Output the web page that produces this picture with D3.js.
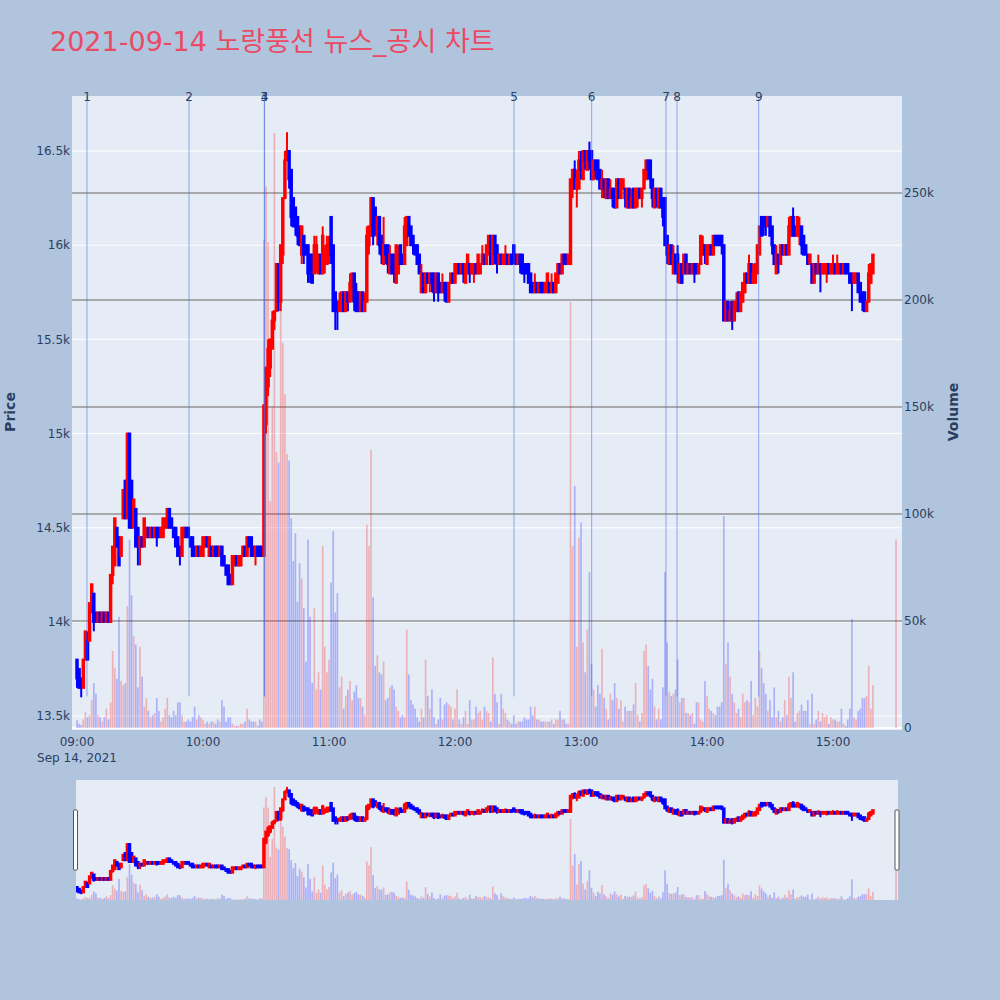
<!DOCTYPE html>
<html><head><meta charset="utf-8">
<script src="https://cdn.jsdelivr.net/npm/d3@7"></script>
<style>body{margin:0;background:#B0C4DE;} svg{display:block}</style>
</head><body>
<svg id="c" width="1000" height="1000"></svg>
<script>
// ---------------- DATA ----------------
const chartTitle = "2021-09-14 노랑풍선 뉴스_공시 차트";
const sessionDate = "2021-09-14";
const sessionStart = "09:00";
const sessionEnd = "15:19";
const closingAuction = "15:30";

const open = [13800,13750,13700,13650,13800,13900,13900,14050,14150,14050,
14000,14050,14000,14050,14000,14050,14000,14250,14300,14500,
14450,14350,14550,14750,14550,15000,14750,14500,14600,14500,
14400,14450,14400,14450,14500,14450,14500,14450,14500,14500,
14450,14450,14500,14500,14600,14550,14500,14500,14450,14400,
14350,14450,14500,14500,14450,14450,14400,14350,14400,14350,
14350,14400,14450,14350,14400,14350,14400,14400,14350,14400,
14350,14300,14300,14250,14200,14300,14350,14300,14300,14350,
14400,14350,14450,14450,14400,14350,14400,14400,14400,14350,
15050,15250,15350,15450,15600,15650,15900,15700,15950,16250,
16450,16500,16400,16250,16200,16150,16100,15950,16050,16000,
16000,15950,15950,15850,15900,15850,15950,15850,15900,15900,
15950,16150,16000,15750,15700,15650,15650,15750,15650,15750,
15700,15750,15850,15750,15750,15650,15750,15650,15700,16000,
16050,16250,16200,16050,16150,16050,15900,16000,16000,15850,
15950,15950,15800,15850,16000,15950,15900,16000,16150,16100,
16050,16000,16000,15950,15750,15850,15750,15850,15800,15850,
15850,15750,15850,15800,15750,15800,15800,15700,15800,15850,
15800,15850,15900,15850,15900,15800,15850,15900,15850,15850,
15900,15850,15850,15900,15950,15900,15950,16050,15900,16050,
16000,15900,15950,15900,15900,15950,15900,15950,16000,15950,
15900,15950,15950,15900,15900,15900,15850,15800,15750,15800,
15750,15800,15800,15750,15750,15800,15750,15800,15750,15800,
15900,15850,15950,15950,15900,15900,16300,16400,16300,16300,
16450,16350,16500,16400,16500,16500,16350,16450,16450,16400,
16300,16350,16250,16350,16250,16300,16300,16200,16350,16250,
16300,16300,16200,16300,16200,16300,16200,16250,16300,16250,
16300,16350,16450,16450,16350,16200,16300,16200,16300,16250,
16250,16050,15900,16000,15850,15950,15950,15800,15900,15850,
15950,15850,15900,15850,15900,15900,15850,15900,15950,16000,
15900,15950,16000,15950,16050,16050,16050,16050,16000,15600,
15700,15600,15700,15600,15650,15750,15650,15700,15750,15850,
15800,15900,15800,15800,15850,15950,16150,16150,16150,16100,
16150,16100,16000,15850,15950,15900,16000,15950,16000,15950,
16050,16150,16100,16050,16050,16100,16050,16000,15950,15900,
15900,15800,15900,15850,15900,15850,15850,15850,15900,15850,
15850,15900,15850,15850,15900,15850,15900,15900,15850,15850,
15800,15800,15850,15800,15750,15750,15650,15700,15800,15850,
15950];

const high = [13800,13750,13700,13800,13950,13950,14100,14200,14150,14050,
14050,14050,14050,14050,14050,14050,14250,14400,14550,14500,
14450,14450,14700,14750,15000,15000,14750,14650,14600,14500,
14450,14450,14550,14500,14500,14500,14500,14500,14500,14500,
14500,14550,14550,14600,14600,14550,14500,14500,14450,14400,
14500,14500,14500,14500,14450,14450,14400,14400,14400,14400,
14450,14450,14450,14450,14400,14400,14400,14400,14400,14400,
14350,14300,14300,14250,14350,14350,14350,14350,14350,14400,
14400,14450,14450,14450,14400,14400,14400,14400,14400,15150,
15350,15500,15500,15650,15650,15900,15900,16000,16250,16500,
16600,16500,16400,16250,16200,16150,16100,16100,16050,16000,
16000,15950,15950,16050,16050,15950,15950,16100,16000,16050,
16050,16150,16000,15750,15700,15750,15750,15750,15750,15750,
15850,15850,15850,15800,15750,15750,15750,15750,16100,16100,
16250,16250,16200,16150,16150,16050,16150,16000,16000,16000,
15950,15950,16000,16000,16000,15950,16150,16150,16150,16100,
16050,16000,16000,15950,15900,15850,15850,15850,15850,15850,
15850,15850,15850,15800,15850,15800,15800,15800,15850,15850,
15900,15900,15900,15900,15900,15900,15950,15900,15900,15900,
15900,15950,15900,16000,15950,16000,16050,16050,16050,16050,
16000,15950,15950,15950,16000,15950,15950,15950,16000,15950,
15950,15950,15950,15900,15900,15900,15850,15800,15850,15800,
15800,15800,15800,15800,15850,15800,15850,15800,15850,15900,
15900,15950,15950,15950,15950,16350,16400,16450,16400,16500,
16500,16500,16500,16500,16550,16500,16450,16450,16450,16400,
16400,16350,16350,16350,16350,16300,16300,16350,16350,16350,
16350,16300,16300,16300,16300,16300,16300,16300,16300,16300,
16400,16450,16450,16450,16350,16300,16300,16300,16300,16250,
16250,16050,16000,16000,16000,15950,16000,15900,15900,15950,
15950,15900,15900,15900,15900,15900,15900,16050,16050,16000,
16000,16000,16000,16050,16050,16050,16050,16050,16000,15700,
15700,15700,15700,15700,15750,15750,15750,15800,15850,15850,
15950,15900,15900,15900,16000,16100,16150,16150,16150,16150,
16150,16100,16000,16000,15950,16000,16000,16000,16000,16150,
16150,16200,16100,16150,16150,16100,16050,16000,15950,15950,
15900,15900,15900,15950,15900,15900,15900,15900,15900,15900,
15950,15900,15950,15900,15900,15900,15900,15900,15850,15850,
15850,15850,15850,15800,15750,15750,15700,15900,15900,15950,
15950];

const low = [13650,13650,13600,13650,13800,13800,13900,14050,13950,14000,
14000,14000,14000,14000,14000,14000,14000,14200,14300,14400,
14300,14350,14550,14550,14550,14500,14500,14500,14400,14300,
14300,14400,14400,14450,14450,14450,14450,14450,14400,14450,
14450,14450,14500,14500,14500,14500,14450,14400,14350,14300,
14350,14450,14450,14450,14400,14350,14350,14350,14350,14350,
14350,14400,14400,14350,14350,14350,14350,14350,14350,14300,
14300,14250,14200,14200,14200,14300,14300,14300,14300,14350,
14350,14350,14400,14350,14350,14300,14350,14350,14350,14350,
15000,15200,15300,15450,15550,15650,15650,15650,15900,16250,
16450,16300,16100,16100,16050,16000,16000,15900,15900,15950,
15800,15800,15800,15850,15850,15850,15850,15850,15850,15900,
15900,15900,15650,15550,15550,15650,15650,15650,15650,15650,
15700,15700,15650,15650,15650,15650,15650,15650,15700,15950,
16050,16000,16050,16000,15950,15900,15900,15900,15850,15850,
15850,15800,15800,15850,15900,15900,15900,16000,16050,16000,
15950,15950,15900,15850,15750,15750,15750,15800,15750,15750,
15700,15750,15700,15750,15750,15700,15700,15700,15800,15800,
15800,15850,15850,15850,15800,15800,15850,15800,15850,15800,
15850,15850,15850,15900,15900,15900,15950,15900,15900,15900,
15850,15900,15900,15900,15900,15900,15900,15900,15900,15900,
15900,15850,15850,15800,15850,15800,15750,15750,15750,15750,
15750,15750,15750,15750,15750,15750,15750,15750,15750,15800,
15850,15850,15900,15900,15900,15900,16250,16300,16200,16300,
16350,16350,16400,16400,16400,16350,16350,16350,16350,16300,
16250,16250,16250,16250,16250,16200,16200,16200,16250,16250,
16300,16200,16200,16200,16200,16200,16200,16200,16250,16200,
16300,16350,16350,16300,16200,16200,16200,16200,16200,16100,
16000,15900,15900,15900,15850,15850,15800,15800,15800,15850,
15850,15850,15850,15850,15800,15850,15850,15900,15950,15900,
15900,15950,15950,15950,16000,16000,16000,15950,15600,15600,
15600,15600,15550,15600,15650,15650,15650,15700,15750,15800,
15800,15800,15800,15800,15850,15950,16050,16050,16050,16100,
16050,15950,15900,15850,15850,15900,15950,15950,15950,15950,
16050,16050,16050,16050,16000,15950,15950,15950,15900,15900,
15800,15800,15850,15850,15750,15850,15850,15800,15850,15850,
15850,15850,15850,15850,15850,15850,15850,15850,15800,15650,
15800,15800,15750,15700,15650,15650,15650,15700,15800,15850,
15950];

const close = [13700,13650,13650,13800,13950,13800,14100,14200,14000,14000,
14050,14000,14050,14000,14050,14000,14250,14400,14550,14400,
14300,14450,14700,14550,15000,14500,14500,14650,14400,14400,
14450,14400,14550,14500,14450,14500,14450,14500,14450,14450,
14500,14550,14550,14600,14500,14500,14450,14400,14350,14350,
14500,14500,14450,14450,14400,14350,14350,14400,14350,14400,
14450,14450,14400,14450,14350,14400,14350,14350,14400,14300,
14300,14250,14200,14200,14350,14350,14300,14350,14350,14400,
14350,14450,14400,14350,14350,14400,14350,14350,14350,15150,
15350,15450,15500,15600,15650,15900,15700,16000,16250,16450,
16500,16350,16150,16100,16100,16050,16000,16100,15950,15950,
15850,15850,15800,16000,16000,15950,15850,16050,15950,16000,
16000,15950,15650,15650,15650,15700,15750,15650,15750,15700,
15800,15850,15700,15650,15650,15750,15650,15700,16050,16100,
16250,16050,16100,16150,16000,15950,16000,15950,15900,15950,
15850,15850,16000,15950,15900,15900,16100,16150,16050,16000,
16000,15950,15900,15850,15850,15750,15850,15800,15850,15800,
15750,15850,15750,15750,15800,15750,15700,15800,15850,15800,
15900,15900,15850,15900,15850,15900,15950,15850,15900,15900,
15850,15950,15900,15950,15900,16000,16050,15900,16050,15950,
15900,15950,15900,15950,15950,15900,15950,15900,15950,15900,
15950,15900,15850,15850,15850,15800,15750,15750,15800,15750,
15800,15750,15750,15800,15850,15750,15800,15750,15850,15900,
15850,15950,15900,15900,15950,16350,16400,16300,16350,16450,
16400,16500,16450,16500,16450,16350,16450,16400,16350,16300,
16350,16300,16350,16250,16300,16250,16200,16350,16250,16350,
16350,16250,16300,16200,16250,16200,16300,16300,16250,16300,
16400,16450,16400,16350,16250,16300,16250,16300,16200,16150,
16000,15950,16000,15900,15950,15850,15850,15900,15800,15950,
15850,15900,15850,15900,15850,15850,15900,16050,16000,15950,
16000,16000,15950,16050,16000,16000,16000,16000,15600,15700,
15600,15650,15600,15700,15700,15650,15750,15800,15850,15800,
15900,15800,15850,15900,16000,16100,16050,16100,16100,16150,
16050,16000,15900,15950,15900,16000,15950,16000,15950,16100,
16150,16050,16050,16150,16100,16000,15950,15950,15900,15950,
15800,15900,15850,15900,15850,15900,15900,15900,15850,15900,
15900,15850,15900,15900,15850,15900,15850,15850,15800,15800,
15850,15850,15750,15700,15700,15650,15700,15850,15900,15950,
15950];

// volume in thousands of shares
const volumeThousands = [3.7,2,1.5,4,7.5,5,6,13,21,16,
6,5,3,5,9,4,12,36,28,23,
52,22,20,21,57,88,62,43,39,19,
38,24,10,14,8,5,6,7,14,8,
3,5,9,14,6,5,8,6,12,12,
6,3,3,4,3,5,10,4,6,5,
4,2,3,2,3,3,2,4,3,13,
10,3,5,5,2,1,1,1,2,2,
3,9,4,3,3,3,1,4,3,228,
253,227,106,150,278,129,124,205,180,156,
128,125,98,78,91,59,77,70,56,31,
88,52,21,56,18,26,18,85,38,26,
32,68,92,54,63,19,24,9,15,18,
22,13,17,20,14,14,10,6,95,85,
130,61,29,34,26,25,31,13,14,19,
20,18,10,8,5,6,5,46,25,13,
11,9,5,3,9,5,32,15,9,18,
5,2,4,14,4,11,12,11,10,4,
9,18,4,2,5,8,2,13,4,4,
10,7,8,4,10,8,7,3,33,16,
12,2,16,9,7,4,3,2,6,2,
3,3,3,5,4,4,10,6,10,4,
4,3,3,3,3,3,4,2,4,4,
8,4,4,2,2,199,85,113,38,89,
96,40,26,46,73,30,18,10,20,16,
37,14,9,4,16,13,21,14,9,13,
3,10,8,8,8,11,21,6,3,7,
36,39,29,18,23,10,4,9,4,19,
73,40,17,15,16,18,32,12,14,14,
7,7,6,7,2,12,12,4,3,22,
15,9,8,7,6,10,10,12,99,30,
40,24,16,12,7,9,5,16,12,13,
12,22,6,14,10,36,28,21,16,8,
13,5,19,5,8,3,5,13,6,24,
14,26,3,7,8,11,8,8,13,2,
16,2,4,8,3,7,5,6,2,5,
4,4,3,3,9,2,1,4,9,51,
5,4,8,9,14,14,15,29,9,20,
88];

// news / disclosure markers
const markerLabels = ["1","2","3","4","5","6","7","8","9"];
const markerTimes = ["09:04:45","09:53:20","10:29:10","10:29:20","12:28:05","13:05:05","13:40:28","13:45:43","14:24:37"];

// axis ticks
const xTickLabels = ["09:00","10:00","11:00","12:00","13:00","14:00","15:00"];
const xDateLabel = "Sep 14, 2021";
const priceTicks = [13500,14000,14500,15000,15500,16000,16500];
const priceTickLabels = ["13.5k","14k","14.5k","15k","15.5k","16k","16.5k"];
const volumeTicks = [0,50,100,150,200,250];
const volumeTickLabels = ["0","50k","100k","150k","200k","250k"];

// ---------------- BUILD ----------------
const parseT = d3.timeParse("%Y-%m-%d %H:%M:%S");
const T = s => parseT(sessionDate + " " + (s.length === 5 ? s + ":00" : s));
const times = d3.timeMinute.range(T(sessionStart), d3.timeMinute.offset(T(sessionEnd), 1));
times.push(T(closingAuction));

const data = times.map((t, i) => ({
  t, o: open[i], h: high[i], l: low[i], c: close[i], v: volumeThousands[i],
}));
data.forEach((d, i) => {
  const prev = i > 0 ? data[i - 1].c : d.o;
  d.inc = d.c > d.o || (d.c === d.o && d.c >= prev);
});

const svg = d3.select("#c");
const W = 1000, H = 1000;
svg.append("rect").attr("width", W).attr("height", H).attr("fill", "#B0C4DE");

const L = 72, R = 902, TOP = 96, BOT = 728;
const FONT = "'DejaVu Sans', Verdana, sans-serif";
const TXT = "#2a3f5f";

const x = d3.scaleTime().domain([T("08:57:37"), T("15:32:51")]).range([L, R]);
const yP = d3.scaleLinear().domain([13437, 16792]).range([BOT, TOP]);
const yV = d3.scaleLinear().domain([0, 295.3]).range([BOT, TOP]);

const bodyW = x(d3.timeSecond.offset(T(sessionStart), 42)) - x(T(sessionStart));
const barW = x(d3.timeSecond.offset(T(sessionStart), 48)) - x(T(sessionStart));

// title
svg.append("text").attr("x", 50).attr("y", 51)
  .attr("font-family", "'DejaVu Sans', 'Noto Sans CJK KR', sans-serif")
  .attr("font-size", 27).attr("fill", "#EA4A64").text(chartTitle);

// plot background
const defs = svg.append("defs");
defs.append("clipPath").attr("id", "clipMain").append("rect")
  .attr("x", L).attr("y", TOP).attr("width", R - L).attr("height", BOT - TOP + 2);

svg.append("rect").attr("x", L).attr("y", TOP).attr("width", R - L).attr("height", BOT - TOP + 2)
  .attr("fill", "#E5ECF6");

const grid = svg.append("g");
grid.selectAll("line.pg").data(priceTicks).join("line")
  .attr("x1", L).attr("x2", R).attr("y1", d => yP(d)).attr("y2", d => yP(d))
  .attr("stroke", "#fff").attr("stroke-width", 1);
grid.selectAll("line.vg").data(volumeTicks.filter(d => d > 0)).join("line")
  .attr("x1", L).attr("x2", R).attr("y1", d => yV(d)).attr("y2", d => yV(d))
  .attr("stroke", "#8a8a8a").attr("stroke-width", 1.4).attr("opacity", 0.9);
grid.append("line").attr("x1", L).attr("x2", R).attr("y1", yV(0)).attr("y2", yV(0))
  .attr("stroke", "#fff").attr("stroke-width", 2);

function drawCandles(g, xs, yp, yv, lw) {
  const cg = g.append("g");
  data.forEach(d => {
    const col = d.inc ? "red" : "blue";
    const cx = xs(d.t);
    cg.append("line").attr("x1", cx).attr("x2", cx).attr("y1", yp(d.h)).attr("y2", yp(d.l))
      .attr("stroke", col).attr("stroke-width", lw);
    const top = yp(Math.max(d.o, d.c)), bot = yp(Math.min(d.o, d.c));
    cg.append("rect").attr("x", cx - bodyW / 2).attr("y", top)
      .attr("width", bodyW).attr("height", Math.max(0, bot - top))
      .attr("fill", col).attr("stroke", col).attr("stroke-width", lw);
  });
  g.append("g").selectAll("rect").data(data).join("rect")
    .attr("x", d => xs(d.t) - barW / 2).attr("width", barW)
    .attr("y", d => yv(d.v)).attr("height", d => yv(0) - yv(d.v))
    .attr("fill", d => d.inc ? "red" : "blue").attr("opacity", 0.25);
}

const main = svg.append("g").attr("clip-path", "url(#clipMain)");
drawCandles(main, x, yP, yV, 2);

// marker lines
const markerTop = TOP, markerBot = BOT - 0.05 * (BOT - TOP);
const mk = svg.append("g");
markerTimes.forEach((s, i) => {
  const mx = x(T(s));
  mk.append("line").attr("x1", mx).attr("x2", mx).attr("y1", markerTop).attr("y2", markerBot)
    .attr("stroke", "royalblue").attr("stroke-opacity", 0.55).attr("stroke-width", 1);
  mk.append("text").attr("x", mx).attr("y", 101).attr("text-anchor", "middle")
    .attr("font-family", FONT).attr("font-size", 12).attr("fill", TXT).text(markerLabels[i]);
});

// axes labels
const ax = svg.append("g").attr("font-family", FONT).attr("font-size", 12).attr("fill", TXT);
priceTicks.forEach((p, i) => {
  ax.append("text").attr("x", 70).attr("y", yP(p)).attr("dy", "0.35em")
    .attr("text-anchor", "end").text(priceTickLabels[i]);
});
volumeTicks.forEach((v, i) => {
  ax.append("text").attr("x", 904).attr("y", yV(v)).attr("dy", "0.35em")
    .attr("text-anchor", "start").text(volumeTickLabels[i]);
});
xTickLabels.forEach(s => {
  ax.append("text").attr("x", x(T(s))).attr("y", 746).attr("text-anchor", "middle").text(s);
});
ax.append("text").attr("x", x(T(xTickLabels[0]))).attr("y", 762).attr("text-anchor", "middle").text(xDateLabel);

svg.append("text").attr("transform", `translate(14.5,${(TOP + BOT) / 2}) rotate(-90)`)
  .attr("text-anchor", "middle").attr("font-family", FONT).attr("font-size", 14)
  .attr("font-weight", "bold").attr("fill", TXT).text("Price");
svg.append("text").attr("transform", `translate(958,${(TOP + BOT) / 2}) rotate(-90)`)
  .attr("text-anchor", "middle").attr("font-family", FONT).attr("font-size", 14)
  .attr("font-weight", "bold").attr("fill", TXT).text("Volume");

// range slider
const SL = 76, SR = 898, ST = 780, SB = 900;
defs.append("clipPath").attr("id", "clipSlider").append("rect")
  .attr("x", SL).attr("y", ST).attr("width", SR - SL).attr("height", SB - ST);
svg.append("rect").attr("x", SL).attr("y", ST).attr("width", SR - SL).attr("height", SB - ST)
  .attr("fill", "#E5ECF6");
const ySP = d3.scaleLinear().domain(yP.domain()).range([SB, ST]);
const ySV = d3.scaleLinear().domain(yV.domain()).range([SB, ST]);
const slider = svg.append("g").attr("clip-path", "url(#clipSlider)");
drawCandles(slider, x, ySP, ySV, 2);

[SL - 2.5, SR - 3].forEach(hx => {
  svg.append("rect").attr("x", hx).attr("y", ST + 30).attr("width", 4).attr("height", 60)
    .attr("rx", 1).attr("fill", "#fff").attr("stroke", "#555").attr("stroke-width", 1);
});
</script>
</body></html>
